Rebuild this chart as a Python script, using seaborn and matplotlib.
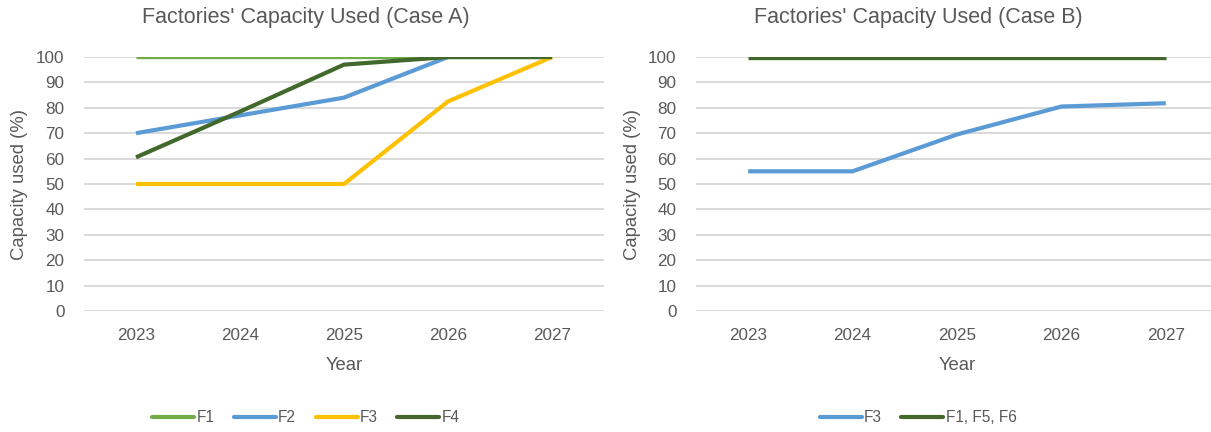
import matplotlib
matplotlib.use("Agg")
import matplotlib.pyplot as plt
import seaborn as sns
import pandas as pd

# Data
years = [2023, 2024, 2025, 2026, 2027]

case_a_f1 = [100, 100, 100, 100, 100]
case_a_f2 = [70, 77, 84, 100, 100]
case_a_f3 = [50, 50, 50, 82.5, 100]
case_a_f4 = [60.5, 78.5, 97, 100, 100]

case_b_f3 = [55, 55, 69.5, 80.5, 81.8]
case_b_f156 = [99.5, 99.5, 99.5, 99.5, 99.5]

labels_a = ["F1", "F2", "F3", "F4"]
labels_b = ["F3", "F1, F5, F6"]

colors_a = ["#70AD47", "#5B9BD5", "#FFC000", "#43682B"]
colors_b = ["#5B9BD5", "#43682B"]
widths_a = [2.4, 3.0, 3.0, 3.0]
widths_b = [3.0, 2.4]

sns.set_theme(style="white")
plt.rcParams["font.family"] = ["Liberation Sans", "DejaVu Sans"]

TEXT = "#595959"
GRID = "#D9D9D9"

W, H = 1211, 432
fig = plt.figure(figsize=(W / 100, H / 100), dpi=100)


def px_axes(x0, x1, y0, y1):
    return fig.add_axes([x0 / W, 1 - y1 / H, (x1 - x0) / W, (y1 - y0) / H])


def long_form(series, labels):
    rows = []
    for lab, vals in zip(labels, series):
        for y, v in zip(years, vals):
            rows.append({"Year": y, "Value": v, "Series": lab})
    return pd.DataFrame(rows)


def draw(ax, box, df, labels, colors, widths, title, center_x, ylabel_x):
    x0, x1, y0, y1 = box
    palette = dict(zip(labels, colors))
    sns.lineplot(data=df, x="Year", y="Value", hue="Series", hue_order=labels,
                 palette=palette, ax=ax, legend=False, zorder=3)
    for line, lw in zip(ax.get_lines(), widths):
        line.set_linewidth(lw)
        line.set_solid_capstyle("butt")
        line.set_solid_joinstyle("miter")
    ax.set_xlim(2022.5, 2027.5)
    ax.set_ylim(0, 100)
    ax.set_yticks(range(0, 101, 10))
    ax.set_xticks(years)
    ax.set_xticklabels([str(y) for y in years])
    ax.yaxis.grid(True, color=GRID, linewidth=1.4, zorder=0)
    ax.xaxis.grid(False)
    ax.set_axisbelow(True)
    for s in ax.spines.values():
        s.set_visible(False)
    ax.tick_params(axis="both", length=0, labelsize=12.3, labelcolor=TEXT)
    ax.tick_params(axis="y", pad=14)
    ax.tick_params(axis="x", pad=12)
    ax.set_xlabel("Year", fontsize=13.3, color=TEXT, va="center")
    ax.xaxis.set_label_coords(0.5, (y1 - 365) / (y1 - y0))
    ax.set_ylabel("Capacity used (%)", fontsize=13.3, color=TEXT, va="center")
    ax.yaxis.set_label_coords((ylabel_x - x0) / (x1 - x0), 0.5)
    fig.text(center_x / W, 1 - 18 / H, title, fontsize=15.5, color=TEXT,
             ha="center", va="center")
    handles = [plt.Line2D([], [], color=c, lw=3) for c in colors]
    fig.legend(handles, labels, loc="center", bbox_to_anchor=(center_x / W, 1 - 418 / H),
               ncol=len(labels), frameon=False, fontsize=11.2, labelcolor=TEXT,
               handlelength=2.7, handletextpad=0.15, columnspacing=1.25)


box1 = (84, 604, 57, 311)
ax1 = px_axes(*box1)
draw(ax1, box1, long_form([case_a_f1, case_a_f2, case_a_f3, case_a_f4], labels_a),
     labels_a, colors_a, widths_a, "Factories' Capacity Used (Case A)", 306, 20)

box2 = (696, 1218, 57, 311)
ax2 = px_axes(*box2)
draw(ax2, box2, long_form([case_b_f3, case_b_f156], labels_b),
     labels_b, colors_b, widths_b, "Factories' Capacity Used (Case B)", 918, 633)

fig.savefig("out.png", dpi=100, facecolor="white")
